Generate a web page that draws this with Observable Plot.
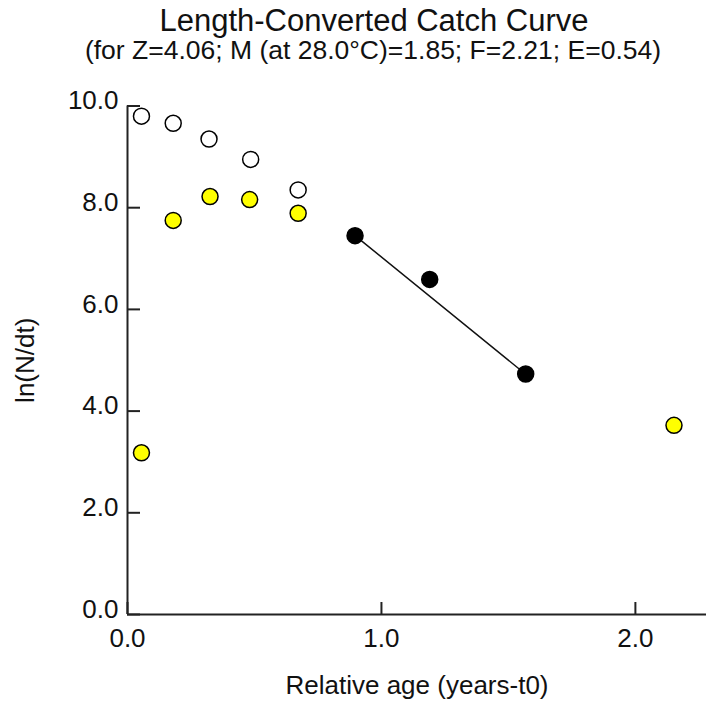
<!DOCTYPE html>
<html>
<head>
<meta charset="utf-8">
<script src="https://cdn.jsdelivr.net/npm/d3@7"></script>
<script src="https://cdn.jsdelivr.net/npm/@observablehq/plot@0.6"></script>
<style>
  html, body { margin: 0; padding: 0; background: #fff; }
  body { width: 706px; height: 702px; overflow: hidden; font-family: "Liberation Sans", Arial, sans-serif; color: #111; }
  #header { position: relative; width: 706px; height: 80px; }
  #title { position: absolute; left: 0; width: 748px; top: 6px; text-align: center; font-size: 31px; line-height: 30px; white-space: nowrap; }
  #subtitle { position: absolute; left: 0; width: 746px; top: 37px; text-align: center; font-size: 26.5px; line-height: 26.5px; white-space: nowrap; }
</style>
</head>
<body>
<div id="header">
  <div id="title">Length-Converted Catch Curve</div>
  <div id="subtitle">(for Z=4.06; M (at 28.0°C)=1.85; F=2.21; E=0.54)</div>
</div>
<div id="chart"></div>
<script>
// Points excluded from the regression (open circles: corrected values)
const openAge = [0.055, 0.180, 0.321, 0.485, 0.672];
const openLn  = [9.80, 9.66, 9.35, 8.95, 8.35];
// Points excluded (yellow: observed values)
const yellowAge = [0.055, 0.180, 0.325, 0.481, 0.672, 2.152];
const yellowLn  = [3.18, 7.75, 8.22, 8.16, 7.89, 3.72];
// Points used in the regression (black)
const blackAge = [0.896, 1.190, 1.568];
const blackLn  = [7.45, 6.59, 4.73];
// Regression parameters
const Z = 4.06;
const intercept = 11.09;
// Axis ticks
const xTicks = [0, 1, 2];
const yTicks = [0, 2, 4, 6, 8, 10];
const xMax = 2.28;
const yMax = 10;

const openData = openAge.map((x, i) => ({x, y: openLn[i]}));
const yellowData = yellowAge.map((x, i) => ({x, y: yellowLn[i]}));
const blackData = blackAge.map((x, i) => ({x, y: blackLn[i]}));
const lineData = d3.extent(blackAge).map(x => ({x, y: intercept - Z * x}));

const fmt = d3.format(".1f");
const axisColor = "#222";

const chart = Plot.plot({
  width: 706,
  height: 622,
  marginTop: 25.5,
  marginBottom: 88,
  marginLeft: 127,
  marginRight: 0,
  style: {fontFamily: "'Liberation Sans', Arial, sans-serif", fontSize: "26px", color: "#111", background: "transparent", overflow: "visible"},
  x: {domain: [0, xMax]},
  y: {domain: [0, yMax]},
  marks: [
    Plot.ruleX([0], {stroke: axisColor, strokeWidth: 2}),
    Plot.ruleY([0], {stroke: axisColor, strokeWidth: 2}),
    Plot.axisY(yTicks, {tickSize: -13, fill: "none", stroke: axisColor, strokeWidth: 2, label: null}),
    Plot.axisY(yTicks, {tickSize: 0, tickPadding: 9, dy: -5, tickFormat: fmt, fill: "#111", fontSize: 26,
      label: "ln(N/dt)", labelAnchor: "center", labelArrow: "none", labelOffset: 112}),
    Plot.axisX(xTicks, {tickSize: -12, fill: "none", stroke: axisColor, strokeWidth: 2, label: null}),
    Plot.axisX(xTicks, {tickSize: 0, tickPadding: 14, tickFormat: fmt, fill: "#111", fontSize: 26,
      label: "Relative age (years-t0)", labelAnchor: "center", labelArrow: "none", labelOffset: 79}),
    Plot.dot(openData, {x: "x", y: "y", r: 8, fill: "white", stroke: "black", strokeWidth: 1.5}),
    Plot.dot(yellowData, {x: "x", y: "y", r: 8, fill: "#ffff00", stroke: "black", strokeWidth: 1.5}),
    Plot.line(lineData, {x: "x", y: "y", stroke: "#111", strokeWidth: 1.5}),
    Plot.dot(blackData, {x: "x", y: "y", r: 8, fill: "black", stroke: "black", strokeWidth: 1.5})
  ]
});
document.getElementById("chart").append(chart);
</script>
</body>
</html>
